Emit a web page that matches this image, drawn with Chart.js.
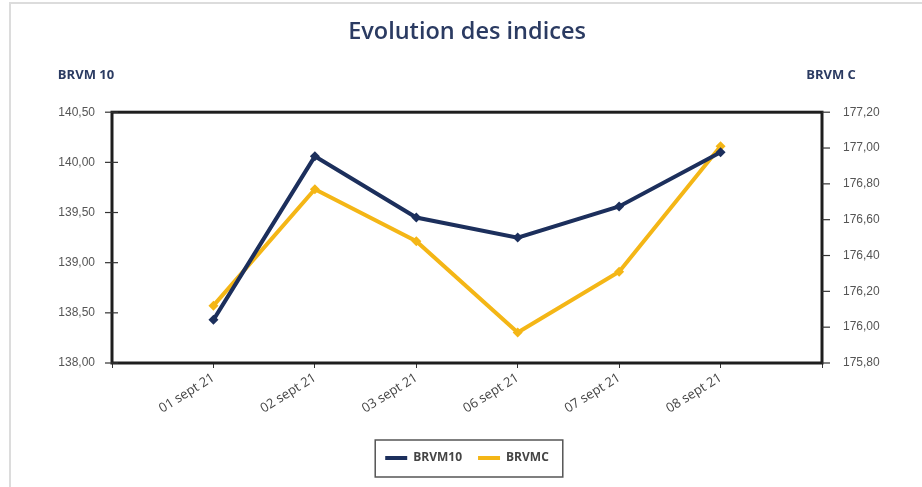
<!DOCTYPE html>
<html><head><meta charset="utf-8">
<script src="https://cdn.jsdelivr.net/npm/chart.js@4.4.0/dist/chart.umd.min.js"></script>
<style>html,body{margin:0;padding:0;background:#fff;}</style>
</head><body><canvas id="c" width="922" height="487"></canvas>
<script>
const categories = ['01 sept 21','02 sept 21','03 sept 21','06 sept 21','07 sept 21','08 sept 21'];
const brvm10 = [138.43, 140.06, 139.45, 139.25, 139.56, 140.10];
const brvmc = [176.12, 176.77, 176.48, 175.97, 176.31, 177.01];
const leftTicks = [138.00, 138.50, 139.00, 139.50, 140.00, 140.50];
const rightTicks = [175.80, 176.00, 176.20, 176.40, 176.60, 176.80, 177.00, 177.20];
const seriesNames = ['BRVM10', 'BRVMC'];
const axisTitles = ['BRVM 10', 'BRVM C'];
const chartTitle = 'Evolution des indices';

const NAVY = '#1c2f5c';
const GOLD = '#f4b616';
const TITLE_COLOR = '#2b3b62';
const fmt = v => Number(v).toFixed(2).replace('.', ',');
const xLabels = [' '].concat(categories, ['  ']);

const decor = {
  id: 'decor',
  beforeDraw(chart) {
    const ctx = chart.ctx;
    ctx.save();
    ctx.fillStyle = '#fff';
    ctx.fillRect(0, 0, chart.width, chart.height);
    ctx.strokeStyle = '#dcdcdc';
    ctx.lineWidth = 2;
    ctx.beginPath();
    ctx.moveTo(10, chart.height);
    ctx.lineTo(10, 3);
    ctx.lineTo(chart.width, 3);
    ctx.stroke();
    ctx.restore();
  },
  afterDraw(chart) {
    const ctx = chart.ctx;
    const a = chart.chartArea;
    ctx.save();
    ctx.strokeStyle = '#1e1e1e';
    ctx.lineWidth = 3;
    ctx.strokeRect(a.left, a.top, a.right - a.left, a.bottom - a.top);
    ctx.lineWidth = 1.2;
    ctx.strokeStyle = '#333';
    const yl = chart.scales.y;
    yl.ticks.forEach(t => {
      const py = yl.getPixelForValue(t.value);
      ctx.beginPath(); ctx.moveTo(a.left - 7, py); ctx.lineTo(a.left + 6, py); ctx.stroke();
    });
    const yr = chart.scales.y2;
    yr.ticks.forEach(t => {
      const py = yr.getPixelForValue(t.value);
      ctx.beginPath(); ctx.moveTo(a.right, py); ctx.lineTo(a.right + 8, py); ctx.stroke();
    });
    ctx.fillStyle = TITLE_COLOR;
    ctx.font = 'bold 13px "Open Sans"';
    ctx.textAlign = 'center';
    ctx.textBaseline = 'middle';
    ctx.fillText(axisTitles[0], a.left - 26, 75);
    ctx.fillText(axisTitles[1], a.right + 9, 75);
    const lg = chart.legend;
    if (lg && lg.legendHitBoxes && lg.legendHitBoxes.length) {
      const hb = lg.legendHitBoxes;
      const l = Math.min(...hb.map(h => h.left));
      const r = Math.max(...hb.map(h => h.left + h.width));
      const cy = hb[0].top + hb[0].height / 2;
      ctx.strokeStyle = '#555';
      ctx.lineWidth = 1.5;
      ctx.strokeRect(l - 10, cy - 18, r - l + 24, 37);
    }
    ctx.restore();
  }
};

new Chart(document.getElementById('c'), {
  type: 'line',
  data: {
    labels: xLabels,
    datasets: [
      {
        label: seriesNames[0],
        data: brvm10.map((v, i) => ({x: categories[i], y: v})),
        yAxisID: 'y',
        borderColor: NAVY, backgroundColor: NAVY,
        borderWidth: 4, tension: 0,
        pointStyle: 'rectRot', pointRadius: 5, pointBorderWidth: 0,
        pointBackgroundColor: NAVY
      },
      {
        label: seriesNames[1],
        data: brvmc.map((v, i) => ({x: categories[i], y: v})),
        yAxisID: 'y2',
        borderColor: GOLD, backgroundColor: GOLD,
        borderWidth: 4, tension: 0,
        pointStyle: 'rectRot', pointRadius: 5, pointBorderWidth: 0,
        pointBackgroundColor: GOLD
      }
    ]
  },
  options: {
    responsive: false,
    animation: false,
    devicePixelRatio: 1,
    layout: {padding: {left: 12, right: 0, top: 0, bottom: 13}},
    plugins: {
      title: {
        display: true, text: chartTitle, color: TITLE_COLOR,
        font: {family: 'Open Sans', size: 23.5, weight: '600'},
        padding: {top: 18, bottom: 66}
      },
      legend: {
        position: 'bottom',
        labels: {
          boxWidth: 22, boxHeight: 4, padding: 16, color: '#444',
          font: {family: 'Open Sans', size: 12, weight: 'bold'},
          generateLabels(chart) {
            const items = Chart.defaults.plugins.legend.labels.generateLabels(chart);
            items.forEach(it => { it.lineWidth = 0; it.strokeStyle = 'rgba(0,0,0,0)'; });
            return items;
          }
        }
      },
      tooltip: {enabled: false}
    },
    scales: {
      x: {
        type: 'category', offset: false,
        grid: {display: true, drawOnChartArea: false, tickLength: 5, color: '#333'},
        border: {display: false},
        ticks: {autoSkip: false, maxRotation: 32, minRotation: 32, padding: 2, color: '#444',
          font: {family: 'Open Sans', size: 13}},
        afterFit(s) { s.height = 73; }
      },
      y: {
        position: 'left', min: 138, max: 140.5,
        afterBuildTicks(s) { s.ticks = leftTicks.map(v => ({value: v})); },
        grid: {display: false}, border: {display: false},
        ticks: {callback: fmt, color: '#555', padding: 9, font: {family: 'Liberation Sans', size: 12}},
        afterFit(s) { s.width = 100; }
      },
      y2: {
        position: 'right', min: 175.8, max: 177.2,
        afterBuildTicks(s) { s.ticks = rightTicks.map(v => ({value: v})); },
        grid: {display: false}, border: {display: false},
        ticks: {callback: fmt, color: '#555', padding: 13, font: {family: 'Liberation Sans', size: 12}},
        afterFit(s) { s.width = 100; }
      }
    }
  },
  plugins: [decor]
});
</script>
</body></html>
